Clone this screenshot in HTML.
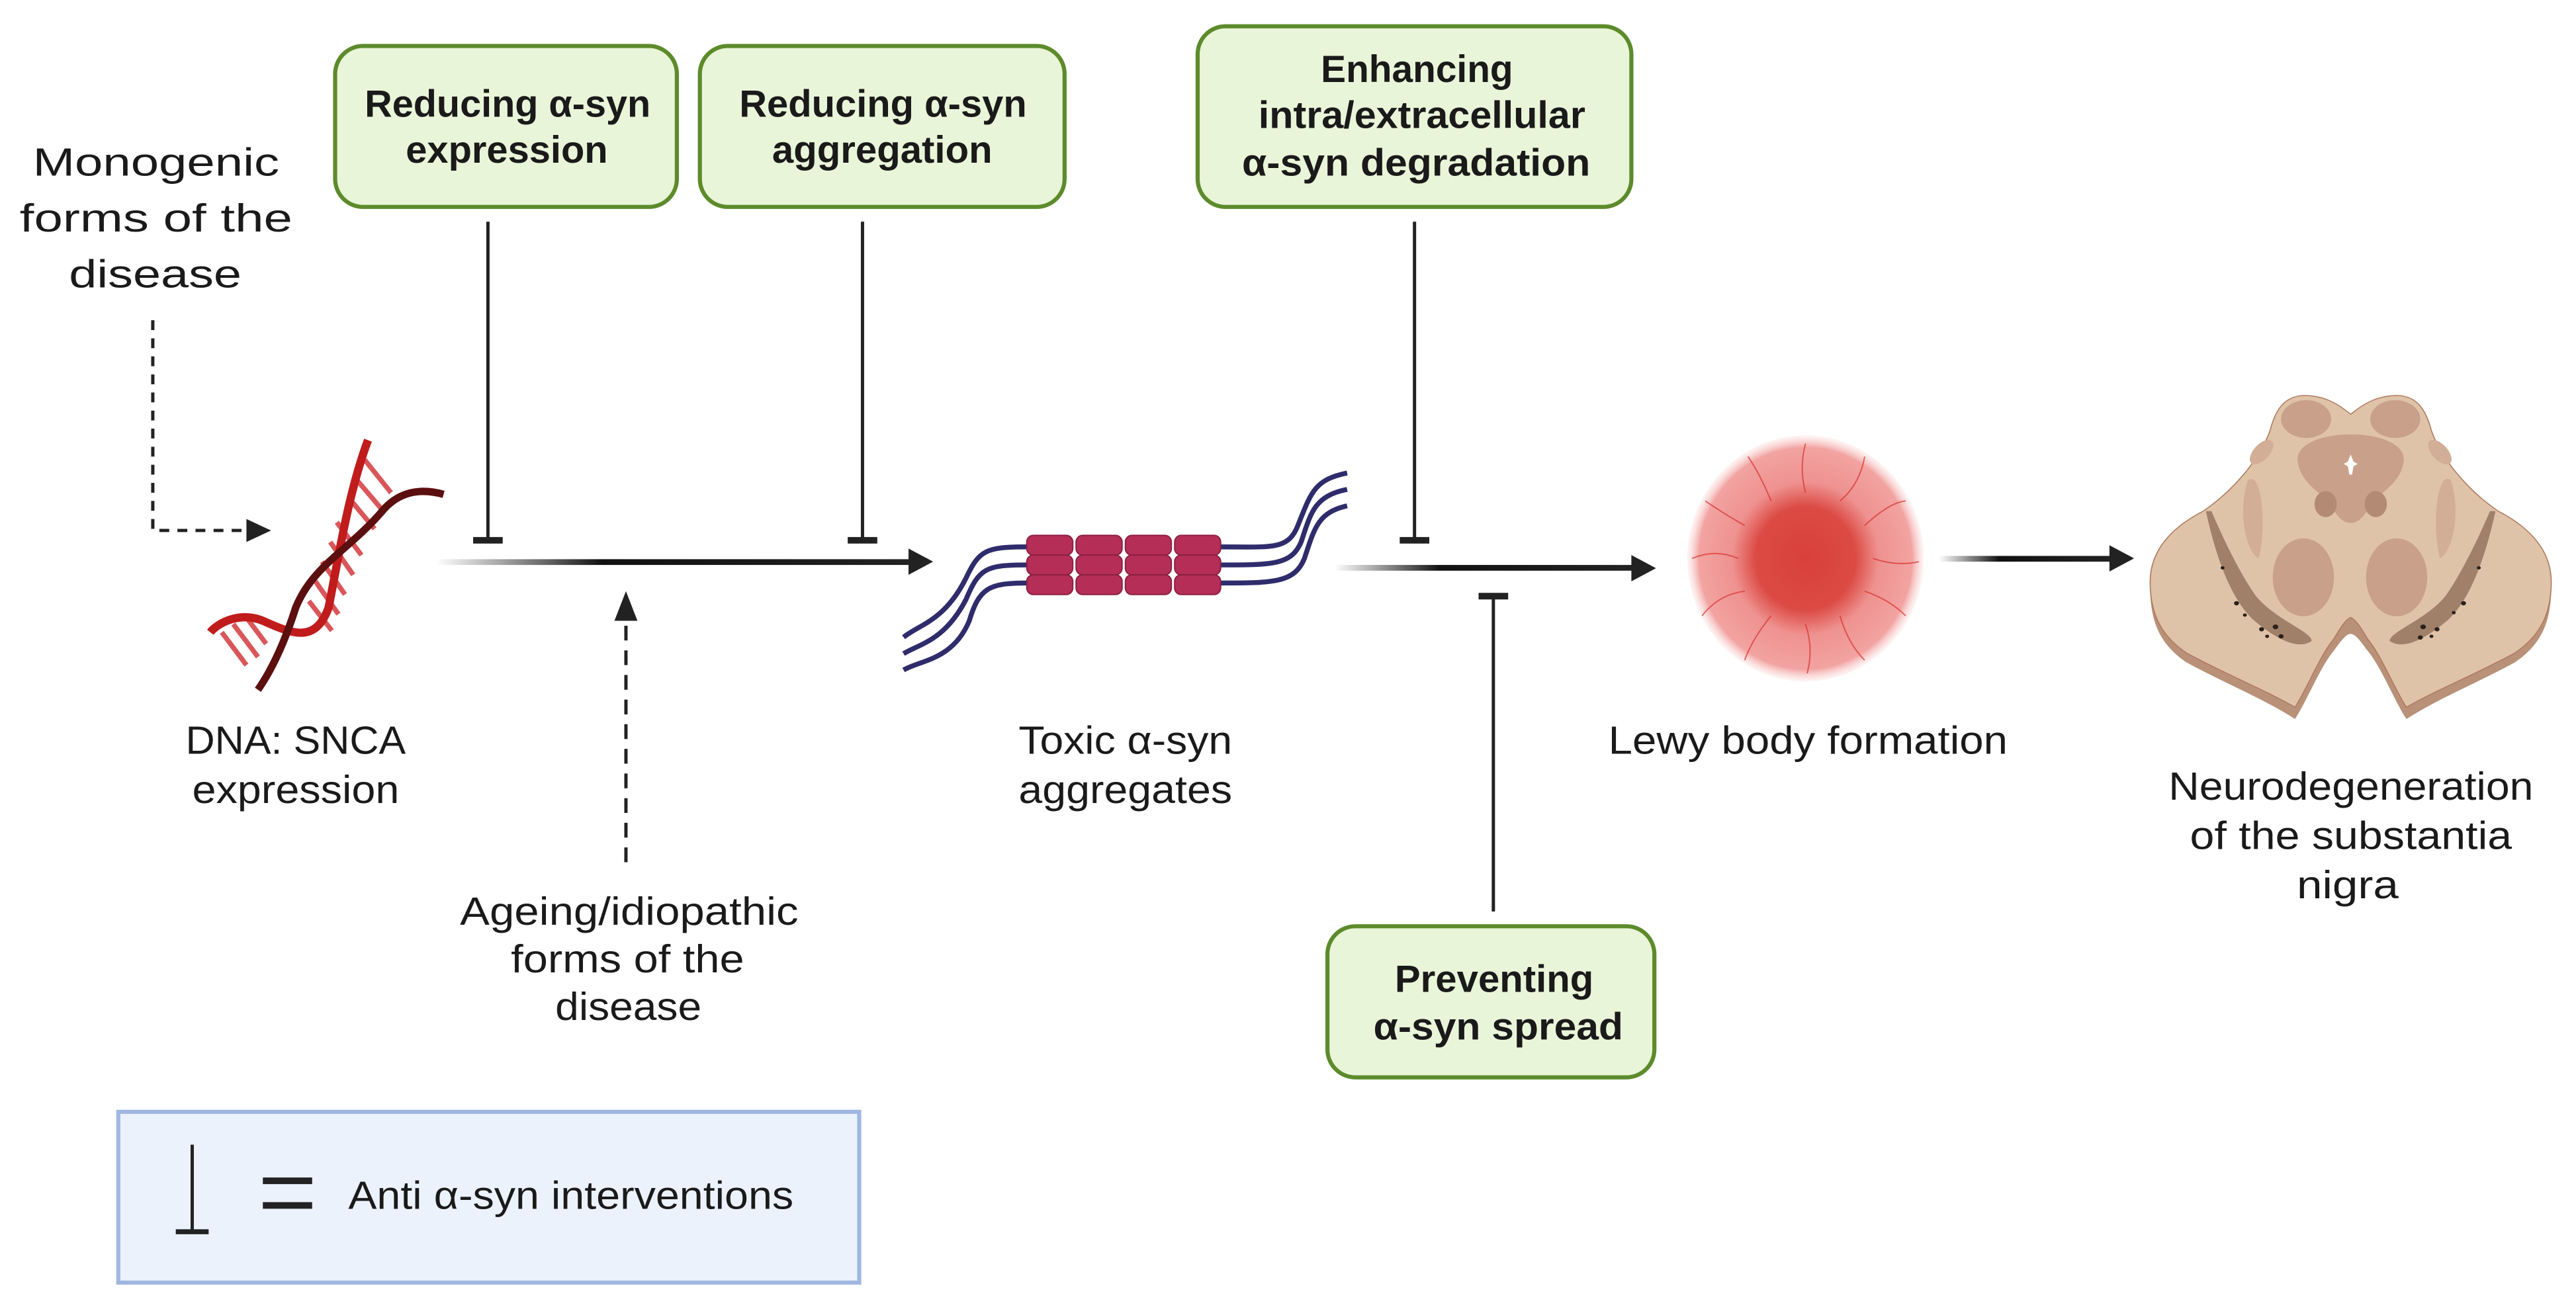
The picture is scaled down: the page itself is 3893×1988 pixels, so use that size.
<!DOCTYPE html>
<html><head><meta charset="utf-8"><style>
html,body{margin:0;padding:0;background:#fff;}
svg{display:block;}
text{font-family:"Liberation Sans",sans-serif;fill:#1a1a1a;}
.b{font-weight:bold;font-size:23px;}
.n{font-size:24px;}
</style></head><body>
<svg width="3893" height="1988" viewBox="0 0 3893 1988" xmlns="http://www.w3.org/2000/svg">
<defs>
<linearGradient id="ln" x1="0" x2="1" y1="0" y2="0"><stop offset="0" stop-color="#222" stop-opacity="0"/><stop offset="0.35" stop-color="#111"/><stop offset="1" stop-color="#222"/></linearGradient>
<radialGradient id="lw" cx="0.5" cy="0.5" r="0.5"><stop offset="0" stop-color="#d9403b"/><stop offset="0.42" stop-color="#dc4a44"/><stop offset="0.62" stop-color="#ee9290"/><stop offset="0.9" stop-color="#f2a3a1"/><stop offset="1" stop-color="#f8d0cf" stop-opacity="0.2"/></radialGradient>
</defs>
<g transform="scale(2.4828)">
<g fill="#e9f5d8" stroke="#5d8b2c" stroke-width="2.5">
<rect x="204" y="28" width="208" height="98" rx="17"/>
<rect x="426" y="28" width="222" height="98" rx="17"/>
<rect x="729" y="16" width="264" height="110" rx="17"/>
<rect x="808" y="564" width="199" height="92" rx="17"/>
</g>
<g lengthAdjust="spacingAndGlyphs">
<text class="b" x="222" y="71" textLength="174" lengthAdjust="spacingAndGlyphs">Reducing α-syn</text>
<text class="b" x="247" y="99" textLength="123" lengthAdjust="spacingAndGlyphs">expression</text>
<text class="b" x="450" y="71" textLength="175" lengthAdjust="spacingAndGlyphs">Reducing α-syn</text>
<text class="b" x="470" y="99" textLength="134" lengthAdjust="spacingAndGlyphs">aggregation</text>
<text class="b" x="804" y="50" textLength="117" lengthAdjust="spacingAndGlyphs">Enhancing</text>
<text class="b" x="766" y="78" textLength="199" lengthAdjust="spacingAndGlyphs">intra/extracellular</text>
<text class="b" x="756" y="107" textLength="212" lengthAdjust="spacingAndGlyphs">α-syn degradation</text>
<text class="b" x="849" y="604" textLength="121" lengthAdjust="spacingAndGlyphs">Preventing</text>
<text class="b" x="836" y="633" textLength="152" lengthAdjust="spacingAndGlyphs">α-syn spread</text>
</g>

<rect x="72" y="677" width="451" height="104" fill="#ebf2fc" stroke="#9fb7e0" stroke-width="2.5"/>
<line x1="117" y1="697" x2="117" y2="750" stroke="#222" stroke-width="2"/>
<line x1="107" y1="750" x2="127" y2="750" stroke="#222" stroke-width="3"/>
<line x1="160" y1="719" x2="190" y2="719" stroke="#222" stroke-width="4"/>
<line x1="160" y1="734" x2="190" y2="734" stroke="#222" stroke-width="4"/>
<text class="n" x="212" y="736" textLength="271" lengthAdjust="spacingAndGlyphs">Anti α-syn interventions</text>

<text class="n" x="20" y="107" font-size="29" textLength="150" lengthAdjust="spacingAndGlyphs">Monogenic</text>
<text class="n" x="12" y="141" font-size="29" textLength="166" lengthAdjust="spacingAndGlyphs">forms of the</text>
<text class="n" x="42" y="175" font-size="29" textLength="105" lengthAdjust="spacingAndGlyphs">disease</text>
<text class="n" x="113" y="459" textLength="134" lengthAdjust="spacingAndGlyphs">DNA: SNCA</text>
<text class="n" x="117" y="489" textLength="126" lengthAdjust="spacingAndGlyphs">expression</text>
<text class="n" x="280" y="563" textLength="206" lengthAdjust="spacingAndGlyphs">Ageing/idiopathic</text>
<text class="n" x="311" y="592" textLength="142" lengthAdjust="spacingAndGlyphs">forms of the</text>
<text class="n" x="338" y="621" textLength="89" lengthAdjust="spacingAndGlyphs">disease</text>
<text class="n" x="620" y="459" textLength="130" lengthAdjust="spacingAndGlyphs">Toxic α-syn</text>
<text class="n" x="620" y="489" textLength="130" lengthAdjust="spacingAndGlyphs">aggregates</text>
<text class="n" x="979" y="459" textLength="243" lengthAdjust="spacingAndGlyphs">Lewy body formation</text>
<text class="n" x="1320" y="487" textLength="222" lengthAdjust="spacingAndGlyphs">Neurodegeneration</text>
<text class="n" x="1333" y="517" textLength="196" lengthAdjust="spacingAndGlyphs">of the substantia</text>
<text class="n" x="1398" y="547" textLength="62" lengthAdjust="spacingAndGlyphs">nigra</text>

<path d="M93 195 V323 H152" fill="none" stroke="#222" stroke-width="2" stroke-dasharray="6 5"/>
<path d="M150 316 L165 323 L150 330Z" fill="#222"/>
<line x1="381" y1="525" x2="381" y2="378" stroke="#222" stroke-width="2" stroke-dasharray="9 6"/>
<path d="M374 378 L381 360 L388 378Z" fill="#222"/>

<rect x="265" y="340.5" width="290" height="3.5" fill="url(#ln)"/>
<path d="M553 334 L568 342 L553 350Z" fill="#222"/>
<rect x="812" y="344" width="183" height="3.5" fill="url(#ln)"/>
<path d="M993 338 L1008 346 L993 354Z" fill="#222"/>
<rect x="1180" y="338.5" width="105" height="3.5" fill="url(#ln)"/>
<path d="M1284 332 L1299 340 L1284 348Z" fill="#222"/>

<g stroke="#222" stroke-width="2">
<line x1="297" y1="135" x2="297" y2="328"/>
<line x1="525" y1="135" x2="525" y2="328"/>
<line x1="861" y1="135" x2="861" y2="328"/>
<line x1="909" y1="555" x2="909" y2="364"/>
</g>
<g stroke="#222" stroke-width="4">
<line x1="288" y1="329" x2="306" y2="329"/>
<line x1="516" y1="329" x2="534" y2="329"/>
<line x1="852" y1="329" x2="870" y2="329"/>
<line x1="900" y1="363" x2="918" y2="363"/>
</g>

<!-- DNA -->
<g fill="none">
<g stroke="#d9575a" stroke-width="3">
<line x1="222" y1="280" x2="238" y2="300"/><line x1="217" y1="292" x2="234" y2="312"/>
<line x1="213" y1="304" x2="228" y2="322"/>
<line x1="205" y1="318" x2="220" y2="338"/><line x1="201" y1="330" x2="215" y2="350"/>
<line x1="196" y1="342" x2="210" y2="362"/><line x1="192" y1="354" x2="206" y2="374"/>
<line x1="188" y1="366" x2="202" y2="384"/>
<line x1="135" y1="385" x2="150" y2="405"/><line x1="142" y1="380" x2="157" y2="400"/><line x1="150" y1="376" x2="162" y2="392"/>
</g>
<path d="M224 268 C212 300 206 340 200 370 C192 392 178 386 160 378 C145 372 132 380 128 385" stroke="#c01c1c" stroke-width="5"/>
<path d="M270 301 C252 296 240 302 232 312 C212 335 190 345 180 370 C172 395 164 410 157 420" stroke="#5c0f0f" stroke-width="4.5"/>
</g>

<!-- aggregates -->
<g fill="none" stroke="#2f2c6c" stroke-width="3">
<path d="M820 288 C800 292 798 300 790 320 C784 335 775 333 742 333 M625 333 C600 333 596 335 588 352 C575 378 560 380 550 388"/>
<path d="M820 298 C800 302 798 312 792 330 C786 344 775 344 742 344 M625 344 C600 344 596 346 588 365 C575 390 560 392 550 398"/>
<path d="M820 308 C802 312 800 322 794 340 C788 355 775 355 742 355 M625 355 C602 355 596 358 590 378 C580 402 560 402 550 408"/>
</g>
<g fill="#b52e58" stroke="#8c1f42" stroke-width="0.8">
<rect x="625" y="326" width="28" height="12" rx="4"/><rect x="655" y="326" width="28" height="12" rx="4"/><rect x="685" y="326" width="28" height="12" rx="4"/><rect x="715" y="326" width="28" height="12" rx="4"/>
<rect x="625" y="338" width="28" height="12" rx="4"/><rect x="655" y="338" width="28" height="12" rx="4"/><rect x="685" y="338" width="28" height="12" rx="4"/><rect x="715" y="338" width="28" height="12" rx="4"/>
<rect x="625" y="350" width="28" height="12" rx="4"/><rect x="655" y="350" width="28" height="12" rx="4"/><rect x="685" y="350" width="28" height="12" rx="4"/><rect x="715" y="350" width="28" height="12" rx="4"/>
</g>

<!-- Lewy body -->
<ellipse cx="1099" cy="340" rx="72" ry="75" fill="url(#lw)"/>
<g stroke="#d8322e" stroke-width="0.8" fill="none" opacity="0.7">
<path d="M1099 300 Q1095 285 1099 270 M1120 305 Q1132 295 1135 278 M1135 320 Q1150 306 1160 305 M1140 340 Q1155 345 1168 342 M1135 360 Q1150 365 1160 375 M1120 375 Q1125 392 1135 402 M1099 380 Q1104 395 1100 410 M1078 375 Q1066 390 1062 402 M1062 360 Q1046 362 1036 375 M1058 340 Q1044 334 1030 340 M1062 320 Q1048 312 1038 305 M1078 305 Q1072 290 1064 278"/>
</g>
</g>

<!-- brain -->
<g transform="translate(3220,580) scale(0.4209,0.357)">
<path d="M790 150 C850 90 900 50 960 50 C1030 55 1060 110 1080 200 C1120 330 1220 460 1320 540 C1450 620 1510 720 1510 860 C1510 1000 1480 1100 1380 1180 C1240 1270 1110 1330 990 1420 C950 1350 900 1200 850 1130 C830 1100 810 1060 790 1060 C770 1060 750 1100 730 1130 C680 1200 630 1350 590 1420 C470 1330 340 1270 200 1180 C100 1100 70 1000 70 860 C70 720 130 620 260 540 C360 460 460 330 500 200 C520 110 550 55 620 50 C680 50 730 90 790 150Z" fill="#b89178"/>
<path d="M790 130 C850 70 900 50 960 50 C1030 55 1060 110 1080 200 C1120 330 1220 460 1320 540 C1450 620 1510 720 1510 840 C1510 960 1480 1060 1380 1140 C1240 1230 1110 1290 990 1370 C950 1300 900 1150 850 1080 C830 1040 810 1000 790 990 C770 1000 750 1040 730 1080 C680 1150 630 1300 590 1370 C470 1290 340 1230 200 1140 C100 1060 70 960 70 840 C70 720 130 620 260 540 C360 460 460 330 500 200 C520 110 550 55 620 50 C680 50 730 70 790 130Z" fill="#dfc3a8" stroke="#b07a60" stroke-width="4"/>
<g fill="#c9a08a">
<ellipse cx="630" cy="150" rx="90" ry="80"/><ellipse cx="950" cy="150" rx="90" ry="80"/>
<path d="M790 215 C900 215 990 260 980 330 C970 420 900 460 870 500 C840 560 820 590 790 590 C760 590 740 560 710 500 C680 460 610 420 600 330 C590 260 680 215 790 215Z"/>
<ellipse cx="620" cy="820" rx="110" ry="165"/><ellipse cx="955" cy="820" rx="110" ry="165"/>
</g>
<g fill="#d2ae96">
<path d="M420 410 C470 360 490 600 460 740 C420 720 380 560 420 410Z"/>
<path d="M1150 410 C1100 360 1080 600 1110 740 C1150 720 1190 560 1150 410Z"/>
<ellipse cx="470" cy="290" rx="30" ry="60" transform="rotate(35 470 290)"/>
<ellipse cx="1110" cy="290" rx="30" ry="60" transform="rotate(-35 1110 290)"/>
</g>
<g fill="#b38a73"><ellipse cx="700" cy="510" rx="40" ry="55"/><ellipse cx="880" cy="510" rx="40" ry="55"/></g>
<path d="M270 540 C300 700 350 900 440 1000 C520 1080 600 1130 650 1090 C650 1050 520 1000 450 900 C390 800 330 650 290 540Z" fill="#a1806a"/>
<path d="M1310 540 C1280 700 1230 900 1140 1000 C1060 1080 980 1130 930 1090 C930 1050 1060 1000 1130 900 C1190 800 1250 650 1290 540Z" fill="#a1806a"/>
<g fill="#2a201c">
<circle cx="380" cy="930" r="9"/><circle cx="470" cy="1040" r="9"/><circle cx="520" cy="1030" r="10"/><circle cx="540" cy="1070" r="9"/><circle cx="330" cy="780" r="7"/><circle cx="410" cy="980" r="7"/><circle cx="490" cy="1070" r="7"/>
<circle cx="1195" cy="930" r="9"/><circle cx="1100" cy="1040" r="9"/><circle cx="1050" cy="1030" r="10"/><circle cx="1040" cy="1075" r="9"/><circle cx="1250" cy="780" r="7"/><circle cx="1160" cy="970" r="7"/><circle cx="1080" cy="1070" r="7"/>
</g>
<path d="M790 300 L800 330 L815 340 L800 350 L795 385 L785 385 L780 350 L765 340 L780 330Z" fill="#fff"/>
</g>
</svg>
</body></html>
